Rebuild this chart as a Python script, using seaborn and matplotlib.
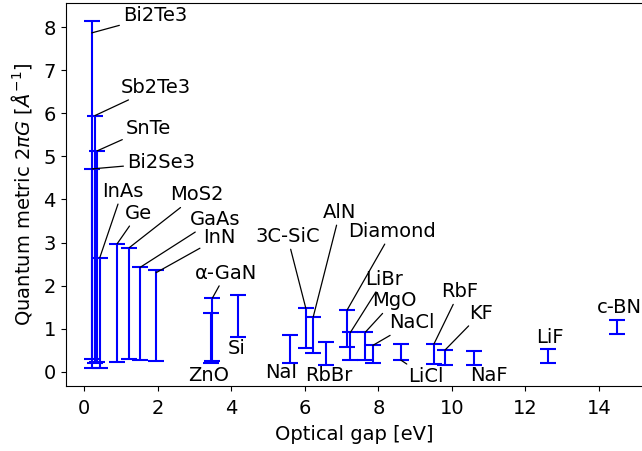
import matplotlib
matplotlib.use("Agg")
import matplotlib.pyplot as plt
import seaborn as sns

# materials, optical gap [eV] and range of the quantum metric 2*pi*G [1/A]
materials = ["Bi2Te3", "Sb2Te3", "SnTe", "Bi2Se3", "InAs", "Ge", "MoS2", "GaAs", "InN",
             "α-GaN", "ZnO", "Si", "NaI", "3C-SiC", "AlN", "RbBr", "Diamond", "LiBr",
             "MgO", "NaCl", "LiCl", "RbF", "KF", "NaF", "LiF", "c-BN"]
gap = [0.21, 0.30, 0.36, 0.21, 0.43, 0.90, 1.23, 1.52, 1.96,
       3.49, 3.45, 4.19, 5.60, 6.03, 6.23, 6.59, 7.15, 7.24,
       7.65, 7.85, 8.61, 9.51, 9.81, 10.60, 12.62, 14.50]
qm_min = [0.29, 0.20, 0.22, 0.08, 0.08, 0.23, 0.30, 0.26, 0.25,
          0.25, 0.19, 0.81, 0.20, 0.56, 0.43, 0.16, 0.58, 0.27,
          0.27, 0.20, 0.27, 0.17, 0.16, 0.16, 0.21, 0.87]
qm_max = [8.15, 5.95, 5.13, 4.71, 2.65, 2.97, 2.88, 2.42, 2.36,
          1.71, 1.36, 1.78, 0.86, 1.47, 1.27, 0.68, 1.43, 0.91,
          0.92, 0.61, 0.64, 0.64, 0.50, 0.48, 0.53, 1.20]

# label placement: text (left x, centre y) and y where the leader line meets the bar (None = no line)
label_pos = {
    "Bi2Te3": (1.05, 8.27, 7.87), "Sb2Te3": (1.00, 6.61, 5.95), "SnTe": (1.13, 5.66, 5.13),
    "Bi2Se3": (1.16, 4.85, 4.71), "InAs": (0.48, 4.19, 2.65), "Ge": (1.11, 3.68, 2.97),
    "MoS2": (2.34, 4.11, 2.88), "GaAs": (2.88, 3.54, 2.42), "InN": (3.24, 3.12, 2.30),
    "α-GaN": (3.02, 2.29, 1.71), "ZnO": (2.83, -0.08, None), "Si": (3.92, 0.54, None),
    "NaI": (4.92, -0.02, None), "3C-SiC": (4.65, 3.14, 1.47), "AlN": (6.50, 3.70, 1.27),
    "RbBr": (6.00, -0.10, None), "Diamond": (7.18, 3.26, 1.43), "LiBr": (7.64, 2.15, 0.91),
    "MgO": (7.83, 1.65, 0.92), "NaCl": (8.30, 1.14, 0.61), "LiCl": (8.81, -0.12, 0.27),
    "RbF": (9.70, 1.86, 0.64), "KF": (10.47, 1.36, 0.50), "NaF": (10.49, -0.08, None),
    "LiF": (12.30, 0.80, None), "c-BN": (13.93, 1.50, None),
}

sns.set_style("ticks")
plt.rcParams["font.family"] = ["DejaVu Sans"]
plt.rcParams["font.size"] = 14
plt.rcParams["text.color"] = "black"
plt.rcParams["axes.labelcolor"] = "black"
plt.rcParams["axes.edgecolor"] = "black"
plt.rcParams["xtick.color"] = "black"
plt.rcParams["ytick.color"] = "black"
plt.rcParams["xtick.major.pad"] = 6.0

fig = plt.figure(figsize=(6.42, 4.51), dpi=100)
ax = fig.add_axes([65.6 / 642, 65.4 / 451, 578.0 / 642, 382.4 / 451])

mid = [(a + b) / 2 for a, b in zip(qm_min, qm_max)]
half = [(b - a) / 2 for a, b in zip(qm_min, qm_max)]
ax.errorbar(gap, mid, yerr=half, fmt="none", ecolor="blue", elinewidth=1.5,
            capsize=6, capthick=1.5)

for name, x in zip(materials, gap):
    tx, ty, ly = label_pos[name]
    if ly is None:
        ax.text(tx, ty, name, ha="left", va="center", fontsize=14, color="black")
    else:
        ax.annotate(name, xy=(x, ly), xytext=(tx, ty), ha="left", va="center", fontsize=14,
                    color="black",
                    arrowprops=dict(arrowstyle="-", color="black", lw=0.9,
                                    shrinkA=0, shrinkB=0))

ax.set_xlim(-0.5, 15.21)
ax.set_ylim(-0.324, 8.56)
ax.set_xticks(range(0, 15, 2))
ax.set_yticks(range(0, 9))
ax.set_xlabel("Optical gap [eV]", labelpad=5)
ax.set_ylabel(r"Quantum metric $2\pi G$ [$\AA^{-1}$]", labelpad=7)

fig.savefig("out.png", dpi=100)
